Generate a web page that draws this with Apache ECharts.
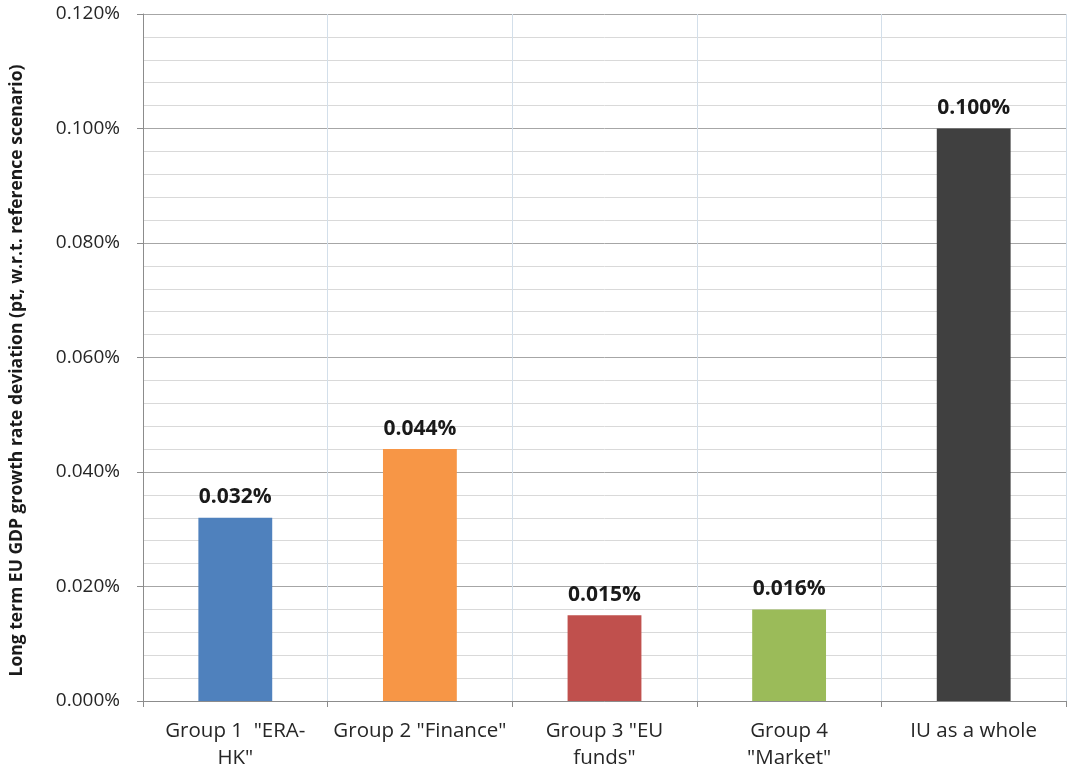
<!DOCTYPE html>
<html>
<head>
<meta charset="utf-8">
<script src="https://cdn.jsdelivr.net/npm/echarts@6/dist/echarts.min.js"></script>
<style>
html,body{margin:0;padding:0;background:#fff;}
#chart{width:1075px;height:774px;}
</style>
</head>
<body>
<div id="chart"></div>
<script>
var categories = ['Group 1  "ERA-\nHK"', 'Group 2 "Finance"', 'Group 3 "EU\nfunds"', 'Group 4\n"Market"', 'IU as a whole'];
var values = [0.032, 0.044, 0.015, 0.016, 0.100];
var barColors = ['#4f81bd', '#f79646', '#c0504d', '#9bbb59', '#404040'];
var yAxisTitle = 'Long term EU GDP growth rate deviation (pt, w.r.t. reference scenario)';

var chart = echarts.init(document.getElementById('chart'));
chart.setOption({
  animation: false,
  textStyle: { fontFamily: '"Open Sans", sans-serif' },
  grid: { left: 143, right: 9, top: 14, bottom: 73, containLabel: false, outerBoundsMode: 'none' },
  xAxis: {
    type: 'category',
    data: categories,
    axisLine: { show: true, lineStyle: { color: '#8c8c8c', width: 1 } },
    axisTick: { show: true, length: 6, alignWithLabel: false, lineStyle: { color: '#8c8c8c' } },
    axisLabel: { color: '#262626', fontSize: 20.5, margin: 17, lineHeight: 27, interval: 0 },
    splitLine: { show: true, interval: 0, lineStyle: { color: '#d3dfea', width: 1 } }
  },
  yAxis: {
    type: 'value',
    min: 0, max: 0.12, interval: 0.02,
    name: yAxisTitle,
    nameLocation: 'middle',
    nameGap: 117,
    nameRotate: 90,
    nameTextStyle: { fontSize: 17.5, fontWeight: 'bold', color: '#1a1a1a', padding: [0, 26, 0, 0] },
    axisLine: { show: true, lineStyle: { color: '#8c8c8c', width: 1 } },
    axisTick: { show: true, length: 6, lineStyle: { color: '#8c8c8c' } },
    axisLabel: { color: '#262626', fontSize: 19, margin: 23, formatter: function (v) { return v.toFixed(3) + '%'; } },
    splitLine: { show: true, lineStyle: { color: '#a6a6a6', width: 1 } },
    minorTick: { show: false, splitNumber: 5 },
    minorSplitLine: { show: true, lineStyle: { color: '#d9d9d9', width: 1 } }
  },
  series: [{
    type: 'bar',
    barWidth: '40%',
    data: values.map(function (v, i) { return { value: v, itemStyle: { color: barColors[i] } }; }),
    label: {
      show: true, position: 'top', distance: 10,
      fontSize: 21, fontWeight: 'bold', color: '#1a1a1a',
      formatter: function (p) { return p.value.toFixed(3) + '%'; }
    }
  }]
});
</script>
</body>
</html>
